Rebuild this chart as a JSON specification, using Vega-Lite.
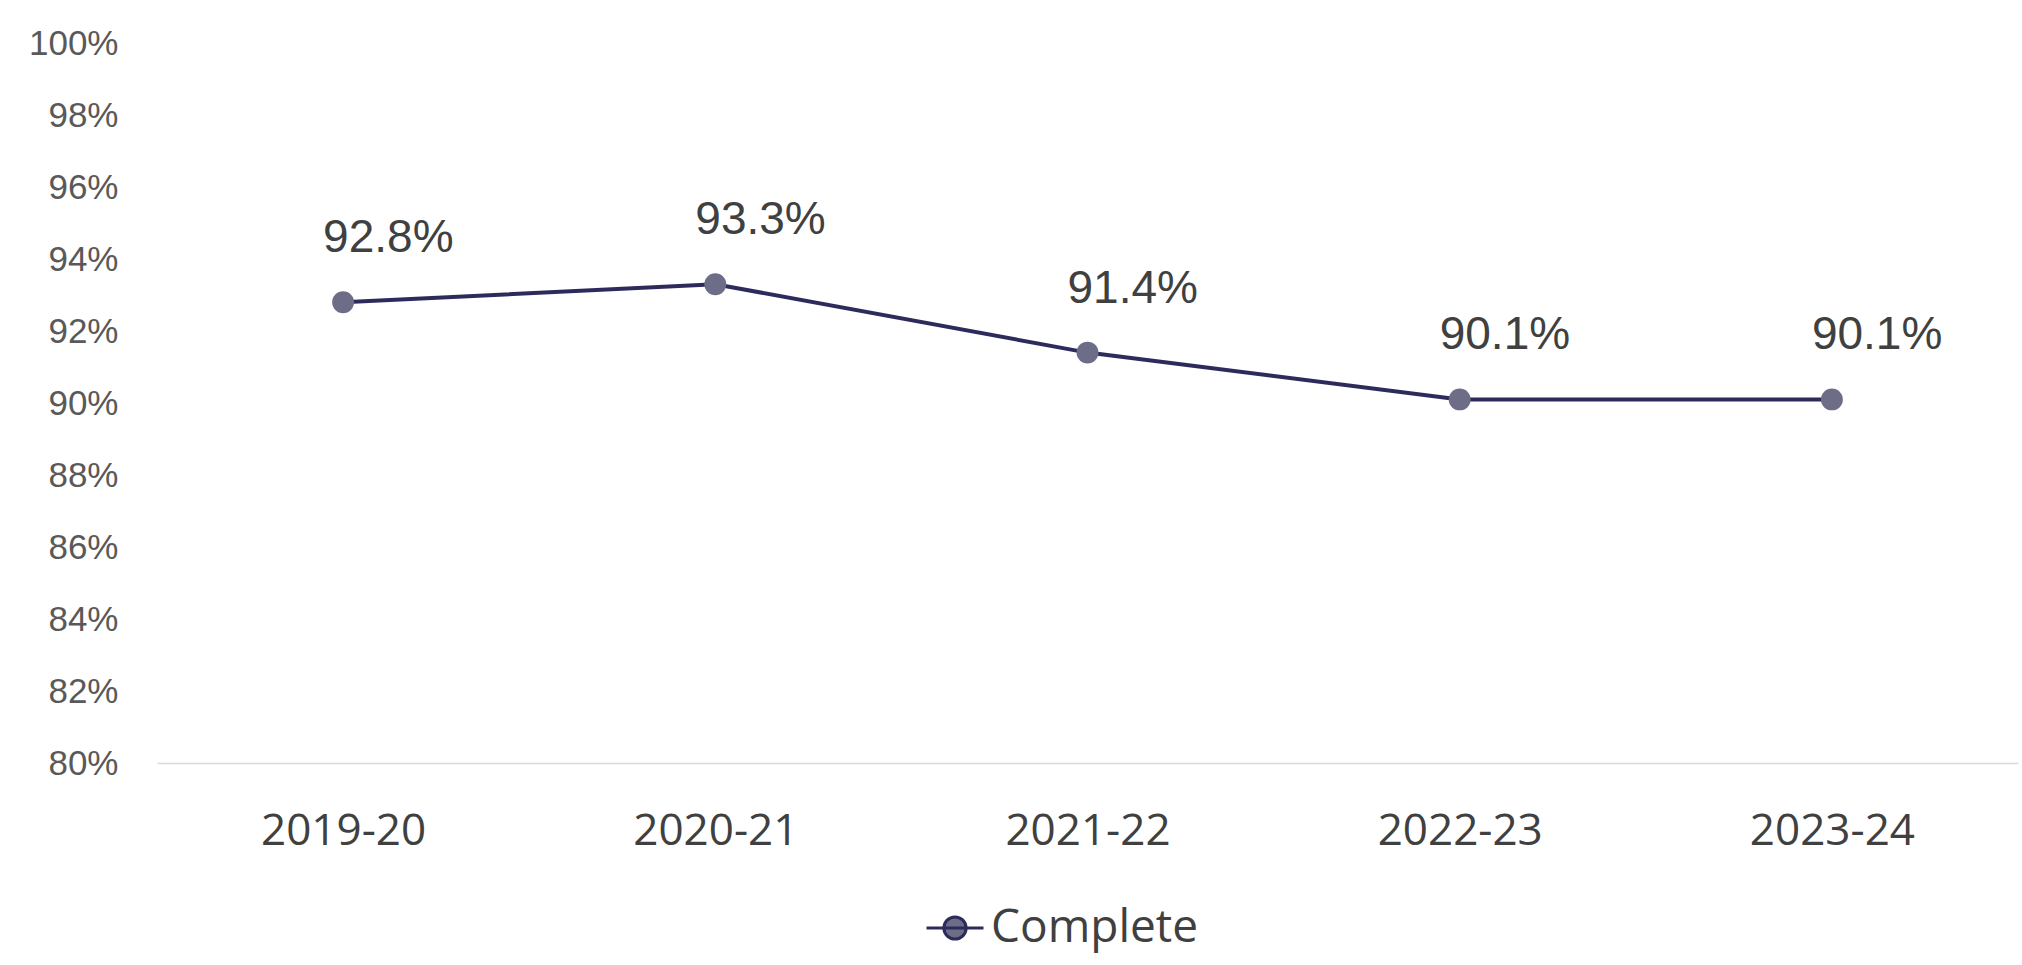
{
  "$schema": "https://vega.github.io/schema/vega-lite/v6.json",
  "width": 1861,
  "height": 720,
  "autosize": {"type": "none"},
  "padding": {"left": 157, "top": 43, "right": 4, "bottom": 202},
  "background": "white",
  "config": {"view": {"stroke": null}},
  "data": {
    "values": [
      {"year": "2019-20", "value": 0.928, "series": "Complete"},
      {"year": "2020-21", "value": 0.933, "series": "Complete"},
      {"year": "2021-22", "value": 0.914, "series": "Complete"},
      {"year": "2022-23", "value": 0.901, "series": "Complete"},
      {"year": "2023-24", "value": 0.901, "series": "Complete"}
    ]
  },
  "encoding": {
    "x": {
      "field": "year", "type": "ordinal", "sort": null,
      "scale": {"type": "point", "padding": 0.5},
      "axis": {
        "title": null, "labelAngle": 0, "ticks": false,
        "domainColor": "#d9d9d9", "domainWidth": 1.5,
        "labelFont": "Open Sans", "labelFontSize": 44, "labelColor": "#404040",
        "labelPadding": 46, "labelBaseline": "top", "grid": false
      }
    },
    "y": {
      "field": "value", "type": "quantitative",
      "scale": {"domain": [0.8, 1.0], "zero": false, "nice": false},
      "axis": {
        "title": null, "format": ".0%", "domain": false, "ticks": false, "grid": false,
        "values": [0.8, 0.82, 0.84, 0.86, 0.88, 0.9, 0.92, 0.94, 0.96, 0.98, 1.0],
        "labelFont": "Liberation Sans", "labelFontSize": 35, "labelColor": "#595959",
        "labelPadding": 39
      }
    }
  },
  "layer": [
    {
      "mark": {"type": "line", "strokeWidth": 4},
      "encoding": {
        "color": {
          "field": "series", "type": "nominal",
          "scale": {"range": ["#2d2b5c"]},
          "legend": {
            "title": null, "orient": "none", "legendX": 768, "legendY": 855,
            "direction": "horizontal",
            "symbolType": "M-1,0L1,0M-0.39,0A0.39,0.39,0,1,0,0.39,0A0.39,0.39,0,1,0,-0.39,0Z",
            "symbolSize": 3249, "symbolStrokeWidth": 3, "symbolFillColor": "#6e6d88",
            "symbolStrokeColor": "#2d2b5c",
            "labelFont": "Open Sans", "labelFontSize": 46, "labelColor": "#404040",
            "labelOffset": 6, "labelLimit": 0
          }
        }
      }
    },
    {
      "mark": {"type": "point", "filled": true, "opacity": 1, "color": "#6e6d88", "size": 480}
    },
    {
      "mark": {"type": "text", "font": "Liberation Sans", "fontSize": 46, "color": "#404040", "align": "left", "baseline": "alphabetic", "dx": -20, "dy": -50},
      "encoding": {
        "text": {"field": "value", "type": "quantitative", "format": ".1%"}
      }
    }
  ]
}
